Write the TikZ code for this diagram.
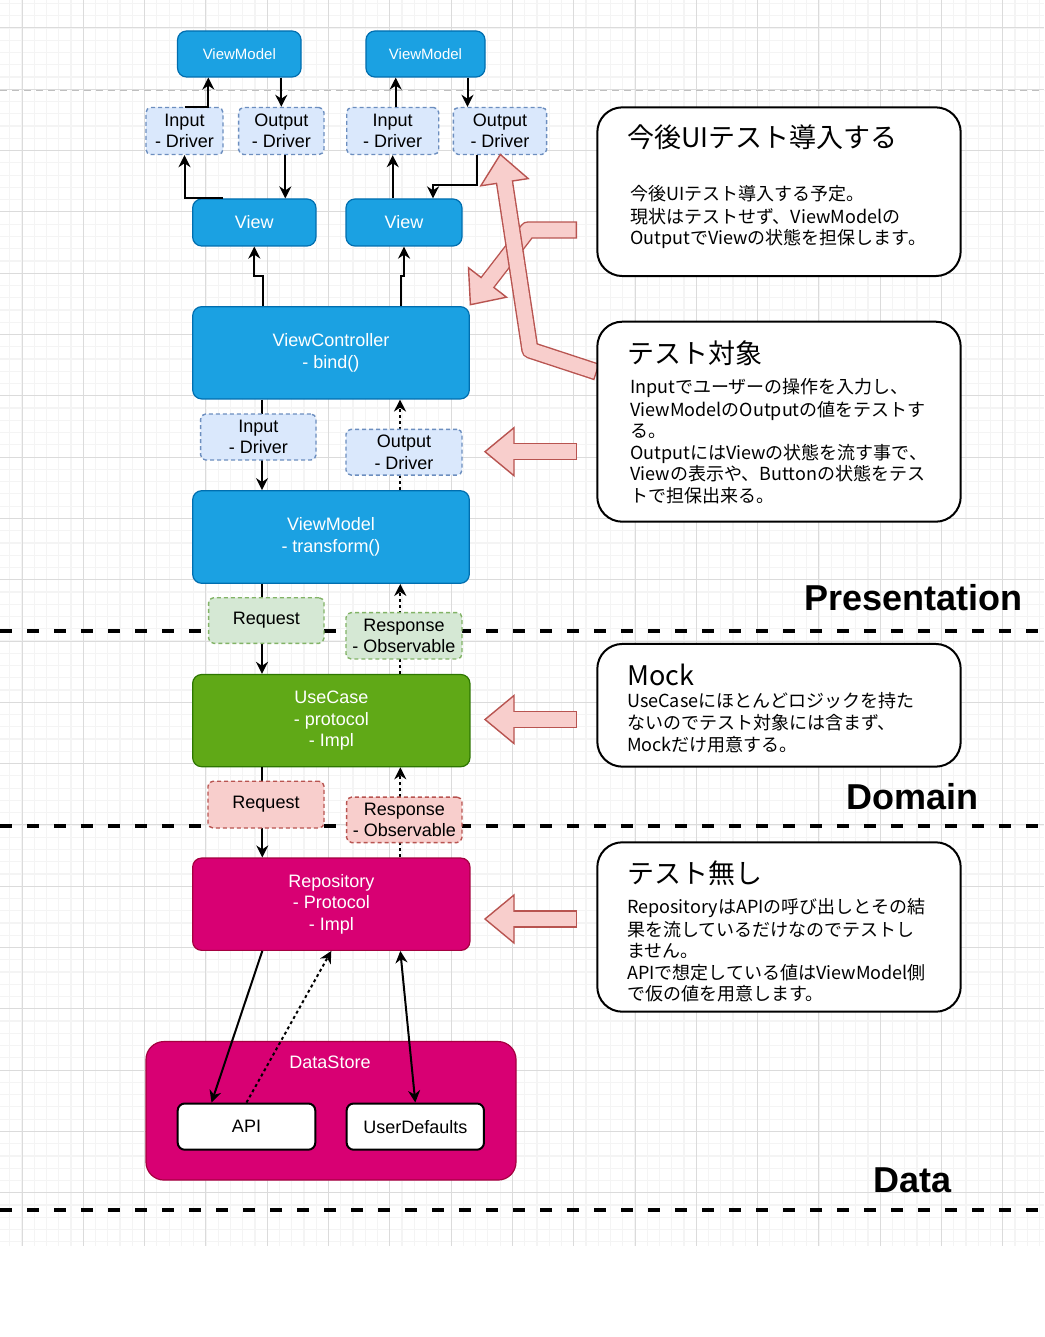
\documentclass[tikz,border=0pt]{standalone}
\usepackage{fontspec}
\setmainfont{Liberation Sans}
\newfontfamily\jpfont{Noto Sans CJK JP}
\usetikzlibrary{arrows.meta}

\definecolor{vmblue}{HTML}{1BA1E2}
\definecolor{vmblueline}{HTML}{006EAF}
\definecolor{drvfill}{HTML}{DAE8FC}
\definecolor{drvline}{HTML}{6C8EBF}
\definecolor{reqgfill}{HTML}{D5E8D4}
\definecolor{reqgline}{HTML}{82B366}
\definecolor{reqrfill}{HTML}{F8CECC}
\definecolor{reqrline}{HTML}{B85450}
\definecolor{ucgreen}{HTML}{60A917}
\definecolor{ucgreenline}{HTML}{2D7600}
\definecolor{repomag}{HTML}{D80073}
\definecolor{repomagline}{HTML}{A50040}

\tikzset{
  gridminor/.style={draw=gray!9, line width=1.2pt},
  gridmajor/.style={draw=gray!28, line width=1pt},
  layerline/.style={line width=4pt, dash pattern=on 12pt off 15pt},
  bluebox/.style={rounded corners=9pt, line width=1.2pt, fill=vmblue, draw=vmblueline,
    text=white, align=center, inner sep=0pt, font=\fontsize{18}{21.6}\selectfont},
  ucbox/.style={bluebox, fill=ucgreen, draw=ucgreenline},
  repobox/.style={bluebox, fill=repomag, draw=repomagline},
  drvbox/.style={rounded corners=5pt, line width=1.4pt, dash pattern=on 4pt off 3pt,
    fill=drvfill, draw=drvline, text=black, align=center, inner sep=0pt,
    font=\fontsize{18}{21.6}\selectfont},
  reqgbox/.style={drvbox, fill=reqgfill, draw=reqgline},
  reqrbox/.style={drvbox, fill=reqrfill, draw=reqrline},
  storebox/.style={rounded corners=7pt, line width=2pt, fill=white, draw=black,
    inner sep=0pt, font=\fontsize{18}{21.6}\selectfont},
  conn/.style={line width=2pt, -{Stealth[length=12pt,width=12pt]}},
  dotc/.style={conn, dash pattern=on 3pt off 3pt},
  both/.style={line width=2pt, {Stealth[length=12pt,width=12pt]}-{Stealth[length=12pt,width=12pt]}},
  hintout/.style={draw=reqrline, line width=17.4pt, line join=round},
  hintin/.style={draw=reqrfill, line width=14.6pt, line join=round, shorten <=1.4pt, shorten >=-5pt},
  hinthead/.style={fill=reqrfill, draw=reqrline, line width=1.4pt, line join=miter},
  note/.style={draw=black, line width=2pt, rounded corners=25pt, fill=white,
    minimum width=363.4pt, inner sep=0pt},
  jtitle/.style={anchor=west, inner sep=0pt, font=\jpfont\fontsize{27}{32}\selectfont},
  jbody/.style={anchor=north west, inner sep=0pt, align=left, font=\jpfont\fontsize{18}{21.5}\selectfont},
  layername/.style={anchor=east, inner sep=0pt, font=\bfseries\fontsize{36}{40}\selectfont}
}

% pink block arrow: shaft path, head polygon
\newcommand{\hintarrow}[2]{%
  \draw[hintout] #1;
  \filldraw[hinthead] #2;
  \draw[hintin] #1;
}

\begin{document}
\begin{tikzpicture}[x=1pt, y=-1pt]
\useasboundingbox (0,0) rectangle (1044,1337);
\fill[white] (0,0) rectangle (1044,1337);

% Grid
\foreach \k in {-1,...,83} \draw[gridminor] ({22+12.26*\k},0) -- ({22+12.26*\k},1246);
\foreach \k in {-2,...,99} \draw[gridminor] (0,{28+12.26*\k}) -- (1044,{28+12.26*\k});
\foreach \k in {0,...,16} \draw[gridmajor] ({22+61.3*\k},0) -- ({22+61.3*\k},1246);
\foreach \k in {0,...,19} \draw[gridmajor] (0,{28+61.3*\k}) -- (1044,{28+61.3*\k});
\draw[gray!50, line width=1.6pt, dash pattern=on 7pt off 5pt] (0,90.5) -- (1044,90.5);

% Layer borders
\draw[layerline] (0,631) -- (1044,631);
\draw[layerline] (0,826) -- (1044,826);
\draw[layerline] (0,1210) -- (1044,1210);

% Top: ViewModel / Driver / View
\node[bluebox, font=\fontsize{15}{18}\selectfont, minimum width=123.5pt, minimum height=46pt] (vmTopL) at (239.3,54) {ViewModel};
\node[bluebox, font=\fontsize{15}{18}\selectfont, minimum width=119pt, minimum height=46pt] (vmTopR) at (425.5,54) {ViewModel};
\node[drvbox, minimum width=77pt, minimum height=47pt] (inTopL) at (184.5,131) {Input\\- Driver};
\node[drvbox, minimum width=85.3pt, minimum height=47pt] (outTopL) at (281.3,131) {Output\\- Driver};
\node[drvbox, minimum width=92pt, minimum height=47pt] (inTopR) at (392.7,131) {Input\\- Driver};
\node[drvbox, minimum width=93.3pt, minimum height=47pt] (outTopR) at (500,131) {Output\\- Driver};
\node[bluebox, minimum width=123.3pt, minimum height=47pt] (viewL) at (254.3,222.5) {View};
\node[bluebox, minimum width=116pt, minimum height=47pt] (viewR) at (404,222.5) {View};

% Main stack
\node[bluebox, minimum width=276.6pt, minimum height=92.3pt] (vc) at (331,352.8) {ViewController\\- bind()};
\node[bluebox, minimum width=276.6pt, minimum height=92.6pt] (vmMid) at (331,537) {ViewModel\\- transform()};
\node[ucbox, minimum width=277.3pt, minimum height=92.2pt] (uc) at (331.3,720.6) {UseCase\\- protocol\\- Impl};
\node[repobox, minimum width=277.3pt, minimum height=92.3pt] (repo) at (331.3,904.2) {Repository\\- Protocol\\- Impl};
\node[repobox, rounded corners=18pt, minimum width=370pt, minimum height=138.5pt] (ds) at (331,1110.8) {};
\node[inner sep=0pt, text=white, font=\fontsize{18}{21.6}\selectfont] (dsname) at (330,1062) {DataStore};
\node[storebox, minimum width=137.6pt, minimum height=46.2pt] (api) at (246.5,1126.6) {API};
\node[storebox, minimum width=137.3pt, minimum height=46.2pt] (ud) at (415.3,1126.6) {UserDefaults};

% Connectors
\draw[conn] (inTopL.north) -| ([xshift=-31pt]vmTopL.south);
\draw[conn] (vmTopL.south -| outTopL.north) -- (outTopL.north);
\draw[conn] ([xshift=4pt]outTopL.south) -- ([xshift=4pt]outTopL.south |- viewL.north);
\draw[conn] ([xshift=-31pt]viewL.north) -| (inTopL.south);
\draw[conn] ([xshift=3pt]inTopR.north) -- ([xshift=3pt]inTopR.north |- vmTopR.south);
\draw[conn] ([xshift=42pt]vmTopR.south) -- ([xshift=42pt]vmTopR.south |- outTopR.north);
\draw[conn] (viewR.north -| inTopR.south) -- (inTopR.south);
\draw[conn] ([xshift=-23pt]outTopR.south) -- ++(0,29.5) -| ([xshift=29pt]viewR.north);
\draw[conn] ([xshift=-68pt]vc.north) -- ++(0,-30.5) -| (viewL.south);
\draw[conn] ([xshift=70pt]vc.north) -- ++(0,-30.5) -| (viewR.south);

\draw[conn] ([xshift=-69pt]vc.south) -- ([xshift=-69pt]vmMid.north);
\draw[dotc] ([xshift=69pt]vmMid.north) -- ([xshift=69pt]vc.south);
\draw[conn] ([xshift=-69pt]vmMid.south) -- ([xshift=-69pt]vmMid.south |- uc.north);
\draw[dotc] ([xshift=69pt]uc.north) -- ([xshift=69pt]uc.north |- vmMid.south);
\draw[conn] ([xshift=-69pt]uc.south) -- ([xshift=-69pt]repo.north);
\draw[dotc] ([xshift=69pt]repo.north) -- ([xshift=69pt]uc.south);
\draw[conn] ([xshift=-69pt]repo.south) -- ([xshift=-35pt]api.north);
\draw[dotc] (api.north) -- (repo.south);
\draw[both] ([xshift=69pt]repo.south) -- (ud.north);

% Labels on the connectors
\node[drvbox, minimum width=115.3pt, minimum height=46pt] (inMid) at (258.3,437) {Input\\- Driver};
\node[drvbox, minimum width=116pt, minimum height=45.7pt] (outMid) at (404,452.2) {Output\\- Driver};
\node[reqgbox, minimum width=115.3pt, minimum height=45.6pt] (reqG) at (266.3,620.5) {Request};
\node[reqgbox, minimum width=116pt, minimum height=46.3pt] (resG) at (404,635.8) {Response\\- Observable};
\node[reqrbox, minimum width=116pt, minimum height=46.8pt] (reqR) at (266,804.6) {Request};
\node[reqrbox, minimum width=115.3pt, minimum height=45.5pt] (resR) at (404.3,819.8) {Response\\- Observable};

% Pink arrows
\hintarrow{(577,230) -- (528,230) -- (487.5,282.5)}{(468.5,267.8) -- (470.4,304.7) -- (506.5,297.2) -- cycle}
\hintarrow{(597,372) -- (530,350) -- (504.5,182.2)}{(480.8,185.8) -- (500.3,154.5) -- (528.2,178.6) -- cycle}
\hintarrow{(577,451.7) -- (514,451.7)}{(514,427.7) -- (485,451.7) -- (514,475.7) -- cycle}
\hintarrow{(577,719.5) -- (514,719.5)}{(514,695.5) -- (485,719.5) -- (514,743.5) -- cycle}
\hintarrow{(577,919) -- (514,919)}{(514,895) -- (485,919) -- (514,943) -- cycle}

% Notes
\node[note, minimum height=168.7pt] (n1) at (779,191.7) {};
\node[jtitle] (n1title) at (627,137) {今後UIテスト導入する};
\node[jbody] (n1body) at (630,185.1) {\strut 今後UIテスト導入する予定。\\
現状はテストせず、ViewModelの\\
OutputでViewの状態を担保します。};

\node[note, minimum height=200pt] (n2) at (779,421.7) {};
\node[jtitle] (n2title) at (627,353) {テスト対象};
\node[jbody] (n2body) at (630,378.5) {\strut Inputでユーザーの操作を入力し、\\
ViewModelのOutputの値をテストす\\
る。\\
OutputにはViewの状態を流す事で、\\
Viewの表示や、Buttonの状態をテス\\
トで担保出来る。};

\node[note, minimum height=122.7pt] (n3) at (779,705.3) {};
\node[jtitle] (n3title) at (627,675) {Mock};
\node[jbody] (n3body) at (627,691.8) {\strut UseCaseにほとんどロジックを持た\\
ないのでテスト対象には含まず、\\
Mockだけ用意する。};

\node[note, minimum height=169.4pt] (n4) at (779,927) {};
\node[jtitle] (n4title) at (627,873) {テスト無し};
\node[jbody] (n4body) at (627,898.5) {\strut RepositoryはAPIの呼び出しとその結\\
果を流しているだけなのでテストし\\
ません。\\
APIで想定している値はViewModel側\\
で仮の値を用意します。};

% Layer names
\node[layername] (presentation) at (1023,598) {Presentation};
\node[layername] (domain) at (979,797) {Domain};
\node[layername] (data) at (952,1180) {Data};

\end{tikzpicture}
\end{document}
